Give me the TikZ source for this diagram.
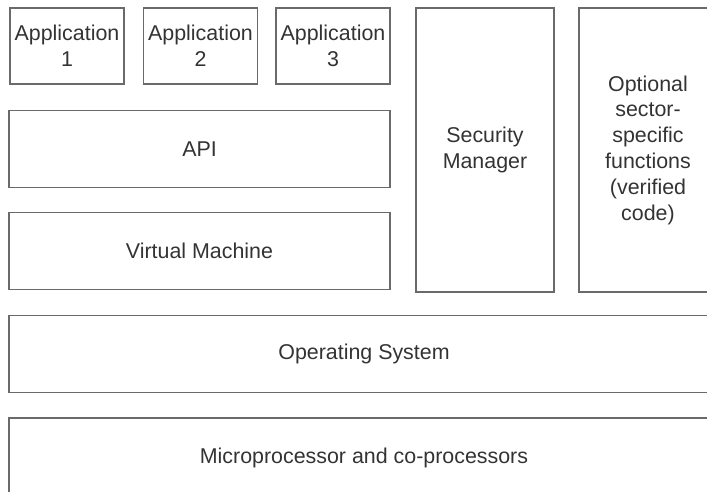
\documentclass[tikz,border=0pt]{standalone}
\usepackage{fontspec}
\setmainfont{Liberation Sans}
\usepackage{xcolor}
\definecolor{boxline}{HTML}{6A6A6A}
\definecolor{boxtext}{HTML}{333333}

\begin{document}
\begin{tikzpicture}[x=0.5pt, y=-0.5pt]
	\tikzstyle{layer}=[draw=boxline, line width=0.6pt, text=boxtext, align=center, inner sep=2pt, font=\fontsize{10.7}{12.9}\selectfont]
	\tikzstyle{app}=[layer, minimum width=57pt, minimum height=38pt]
	\tikzstyle{wide}=[layer, minimum width=190.5pt, minimum height=38.5pt]
	\tikzstyle{column}=[layer, minimum width=69pt, minimum height=142pt]
	\tikzstyle{base}=[layer, minimum width=355pt, minimum height=38.5pt]

	\clip (0,0) rectangle (707,492);

	% Applications
	\foreach \x/\cx in {1/67, 2/200.5, 3/333}
	\node at (\cx, 46) [app] (app_\x) {Application\\\x};

	% Middle layers
	\node at (199.5, 149) [wide] (api) {API};
	\node at (199.5, 251) [wide] (vm) {Virtual Machine};

	% Side columns
	\node at (485, 150) [column] (security) {Security\\Manager};
	\node at (648, 150) [column] (optional) {Optional\\sector-\\specific\\functions\\(verified\\code)};

	% Bottom layers
	\node at (364, 354) [base] (os) {Operating System};
	\node at (364, 458) [base, minimum height=40pt] (micro) {Microprocessor and co-processors};

\end{tikzpicture}
\end{document}
